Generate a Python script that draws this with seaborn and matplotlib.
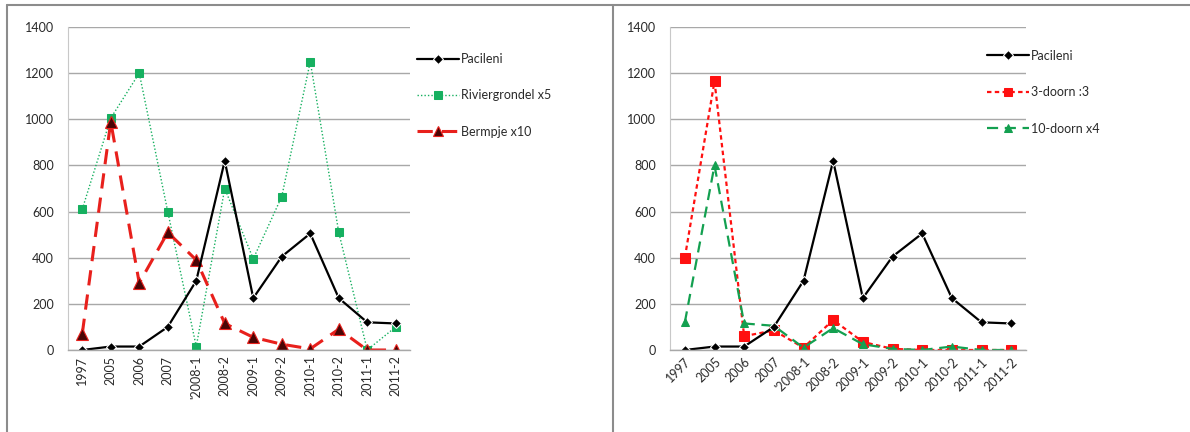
import matplotlib
matplotlib.use("Agg")
import matplotlib.pyplot as plt
from matplotlib.lines import Line2D
from matplotlib.ticker import FixedLocator, MultipleLocator
import seaborn as sns
import pandas as pd

# Sampling periods
periods = ["1997", "2005", "2006", "2007", "'2008-1", "2008-2", "2009-1",
           "2009-2", "2010-1", "2010-2", "2011-1", "2011-2"]

# Counts (scaled series as labelled)
pacileni = [0, 15, 15, 100, 300, 820, 225, 405, 505, 225, 120, 115]
riviergrondel_x5 = [610, 1005, 1200, 600, 15, 700, 395, 665, 1250, 510, 0, 100]
bermpje_x10 = [70, 990, 290, 510, 390, 115, 55, 25, 5, 90, 0, 0]
driedoorn_div3 = [400, 1165, 60, 85, 10, 130, 35, 5, 0, 0, 0, 0]
tiendoorn_x4 = [120, 800, 115, 105, 10, 95, 25, 5, 0, 15, 0, 0]

sns.set_style("white")
plt.rcParams["font.family"] = ["Lato", "DejaVu Sans"]

fig = plt.figure(figsize=(11.9, 4.32), dpi=100)
ax1 = fig.add_axes([68 / 1190, 1 - 350 / 432, 342 / 1190, 323 / 432])
ax2 = fig.add_axes([670 / 1190, 1 - 350 / 432, 356 / 1190, 323 / 432])

BLACK = "#000000"
GREEN = "#16b060"
RED = "#e8201c"
DARKRED = "#4a0505"
RED2 = "#ff1010"
GREEN2 = "#13a050"
TEXT = "#2a2a2a"


def draw(ax, values, **kw):
    df = pd.DataFrame({"period": periods, "value": values})
    sns.lineplot(data=df, x="period", y="value", ax=ax, sort=False, **kw)


# Left panel
draw(ax1, riviergrondel_x5, color=GREEN, linestyle=(0, (1, 1.5)), linewidth=1.0,
     marker="s", markersize=6, markeredgecolor=GREEN, label="Riviergrondel x5")
draw(ax1, bermpje_x10, color=RED, linestyle=(0, (5, 3)), linewidth=2.2,
     marker="^", markersize=8, markerfacecolor=DARKRED, markeredgecolor=RED,
     markeredgewidth=0.8, label="Bermpje x10")
draw(ax1, pacileni, color=BLACK, linewidth=1.6, marker="D", markersize=5.5,
     label="Pacileni")

# Right panel
draw(ax2, driedoorn_div3, color=RED2, linestyle=(0, (2, 1.5)), linewidth=1.6,
     marker="s", markersize=7, markeredgecolor=RED2, label="3-doorn :3")
draw(ax2, tiendoorn_x4, color=GREEN2, linestyle=(0, (5, 3)), linewidth=1.6,
     marker="^", markersize=6, markeredgecolor=GREEN2, label="10-doorn x4")
draw(ax2, pacileni, color=BLACK, linewidth=1.6, marker="D", markersize=5.5,
     label="Pacileni")

for ax, rot in ((ax1, 90), (ax2, 45)):
    ax.set_xlim(-0.5, len(periods) - 0.5)
    ax.set_ylim(0, 1400)
    ax.yaxis.set_major_locator(MultipleLocator(200))
    ax.grid(axis="y", color="#a8a8a8", linewidth=1.0)
    ax.set_axisbelow(True)
    ax.set_xlabel("")
    ax.set_ylabel("")
    for s in ("top", "right"):
        ax.spines[s].set_visible(False)
    ax.spines["left"].set_color("#c8c8c8")
    ax.spines["bottom"].set_color("#a8a8a8")
    ax.spines["bottom"].set_linewidth(1.0)
    ax.tick_params(axis="y", length=0, labelsize=9, labelcolor=TEXT, pad=10)
    ax.set_xticks(range(len(periods)))
    if rot == 90:
        ax.set_xticklabels(periods, rotation=90, fontsize=9, color=TEXT)
    else:
        ax.set_xticklabels(periods, rotation=45, ha="right", rotation_mode="anchor",
                           fontsize=9, color=TEXT)
    ax.tick_params(axis="x", length=0, pad=4)
    ax.xaxis.set_minor_locator(FixedLocator([i + 0.5 for i in range(-1, len(periods))]))
    ax.tick_params(axis="x", which="minor", length=4, direction="inout",
                   color="#b0b0b0", width=1)


# Legends (Pacileni first)
def legend(ax, x, y):
    h, l = ax.get_legend_handles_labels()
    order = [2, 0, 1]
    leg = ax.legend([h[i] for i in order], [l[i] for i in order],
                    loc="upper left", bbox_to_anchor=(x, y), frameon=False,
                    fontsize=9, handlelength=3.4, handletextpad=0.15,
                    labelspacing=1.95, borderaxespad=0, markerscale=0.85)
    for t in leg.get_texts():
        t.set_color(TEXT)


legend(ax1, 1.005, 0.935)
legend(ax2, 0.875, 0.945)

# Panel frames
frame_kw = dict(color="#8c8c8c", linewidth=1.5, transform=fig.transFigure)
fig.add_artist(Line2D([7 / 1190, 1], [1 - 5 / 432, 1 - 5 / 432], **frame_kw))
fig.add_artist(Line2D([7 / 1190, 7 / 1190], [0, 1 - 5 / 432], **frame_kw))
fig.add_artist(Line2D([613 / 1190, 613 / 1190], [0, 1 - 5 / 432], **frame_kw))

fig.savefig("out.png", dpi=100)
